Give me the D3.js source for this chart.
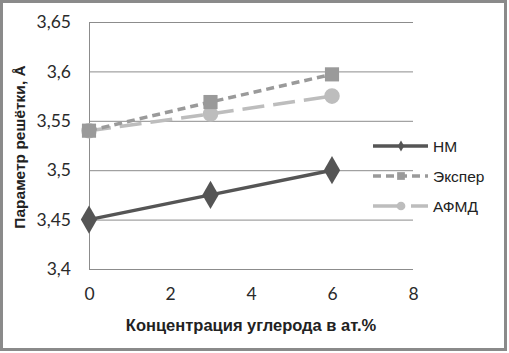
<!DOCTYPE html>
<html>
<head>
<meta charset="utf-8">
<script src="https://cdn.jsdelivr.net/npm/d3@7"></script>
<style>
  body { margin: 0; background: #fff; }
  svg { display: block; }
  .tick text { font-family: Lato, "Open Sans", sans-serif; font-size: 17.5px; fill: #2a2a2a; }
</style>
</head>
<body>
<svg id="chart" width="509" height="353"></svg>
<script>
// data
var xValues = [0, 3, 6];
var nmValues = [3.45, 3.475, 3.5];
var experValues = [3.54, 3.569, 3.597];
var afmdValues = [3.54, 3.557, 3.575];
var seriesNames = ['НМ', 'Экспер', 'АФМД'];
var xTicks = [0, 2, 4, 6, 8];
var yTicks = [3.4, 3.45, 3.5, 3.55, 3.6, 3.65];

var svg = d3.select('#chart');
var fmt = function(d) { return d3.format('.2~f')(d).replace('.', ','); };

// outer frame
svg.append('rect')
  .attr('x', 1.5).attr('y', 1.5)
  .attr('width', 504).attr('height', 348)
  .attr('fill', '#fff')
  .attr('stroke', '#8a8a8a')
  .attr('stroke-width', 3);

var x = d3.scaleLinear().domain([0, 8]).range([89, 413]);
var y = d3.scaleLinear().domain([3.4, 3.65]).range([269, 22]);

// horizontal grid
svg.append('g')
  .attr('transform', 'translate(89,0)')
  .call(d3.axisLeft(y).tickValues(yTicks).tickSize(-324).tickFormat(fmt).tickPadding(18))
  .call(function(g) {
    g.select('.domain').remove();
    g.selectAll('.tick line').attr('stroke', '#8c8c8c').attr('stroke-width', 1);
  });

// y axis line
svg.append('line')
  .attr('x1', 89.5).attr('x2', 89.5)
  .attr('y1', y(3.65)).attr('y2', y(3.4))
  .attr('stroke', '#8c8c8c');

// x axis labels
svg.append('g')
  .attr('transform', 'translate(0,269)')
  .call(d3.axisBottom(x).tickValues(xTicks).tickSize(0).tickPadding(19).tickFormat(d3.format('d')))
  .call(function(g) { g.select('.domain').remove(); });

// axis titles
svg.append('text')
  .attr('x', 251).attr('y', 331)
  .attr('text-anchor', 'middle')
  .attr('font-family', '"Liberation Sans", Arial, sans-serif')
  .attr('font-weight', 'bold')
  .attr('font-size', 16.5)
  .attr('fill', '#222')
  .text('Концентрация углерода в ат.%');

svg.append('text')
  .attr('transform', 'translate(25,147) rotate(-90)')
  .attr('text-anchor', 'middle')
  .attr('font-family', '"Liberation Sans", Arial, sans-serif')
  .attr('font-weight', 'bold')
  .attr('font-size', 15.5)
  .attr('fill', '#222')
  .text('Параметр решётки, Å');

var line = d3.line()
  .x(function(d, i) { return x(xValues[i]); })
  .y(function(d) { return y(d); });

var series = [
  { name: seriesNames[0], values: nmValues, color: '#555555', dash: null, ldash: null, marker: d3.symbolDiamond, size: 230, lsize: 35 },
  { name: seriesNames[1], values: experValues, color: '#9a9a9a', dash: '8,5', ldash: '8,5', marker: d3.symbolSquare, size: 200, lsize: 60 },
  { name: seriesNames[2], values: afmdValues, color: '#bdbdbd', dash: '22,9', ldash: '30,8', marker: d3.symbolCircle, size: 190, lsize: 60 }
];

// draw lighter series first so НМ sits on top
series.slice().reverse().forEach(function(s) {
  svg.append('path')
    .datum(s.values)
    .attr('d', line)
    .attr('fill', 'none')
    .attr('stroke', s.color)
    .attr('stroke-width', 3.5)
    .attr('stroke-dasharray', s.dash);

  svg.selectAll(null)
    .data(s.values)
    .enter().append('path')
    .attr('transform', function(d, i) { return 'translate(' + x(xValues[i]) + ',' + y(d) + ')'; })
    .attr('d', d3.symbol().type(s.marker).size(s.size))
    .attr('fill', s.color);
});

// legend
var legend = svg.append('g');
series.forEach(function(s, i) {
  var ly = 146 + i * 30;
  legend.append('line')
    .attr('x1', 373).attr('x2', 428)
    .attr('y1', ly).attr('y2', ly)
    .attr('stroke', s.color)
    .attr('stroke-width', 3.5)
    .attr('stroke-dasharray', s.ldash);
  legend.append('path')
    .attr('transform', 'translate(401,' + ly + ')')
    .attr('d', d3.symbol().type(s.marker).size(s.lsize))
    .attr('fill', s.color);
  legend.append('text')
    .attr('x', 433).attr('y', ly + 6)
    .attr('font-family', '"Liberation Sans", Arial, sans-serif')
    .attr('font-size', 15.5)
    .attr('fill', '#222')
    .text(s.name);
});
</script>
</body>
</html>
